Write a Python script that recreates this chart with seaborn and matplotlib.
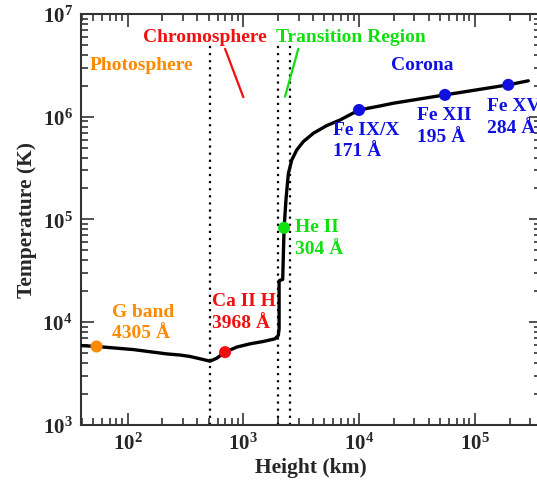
import numpy as np
import pandas as pd
import matplotlib
matplotlib.use("Agg")
import matplotlib.pyplot as plt
import seaborn as sns
from matplotlib.ticker import LogLocator, NullFormatter, FuncFormatter

# ---- data ----
height_km = [39.4, 53.8, 111.7, 217, 284, 346, 423, 515, 589, 695, 877, 1143, 1489, 1879,
             2004, 2037, 2037, 2060, 2188, 2250, 2340, 2450, 2618, 2894, 3300, 4027,
             5260, 6860, 10000, 15190, 19800, 55300, 195000, 290400]
temperature_K = [5900, 5780, 5395, 4898, 4770, 4620, 4385, 4159, 4446, 5093, 5702, 6138, 6471, 6871,
                 7396, 8610, 24500, 25500, 26000, 82800, 160000, 280000, 378400, 474600, 573100, 690700,
                 820700, 930400, 1164000, 1274000, 1355000, 1633000, 2046000, 2239000]

line_names = ["G band", "Ca II H", "He II", "Fe IX/X", "Fe XII", "Fe XV"]
line_wavelengths = ["4305 Å", "3968 Å", "304 Å", "171 Å", "195 Å", "284 Å"]
line_heights = [53.8, 695, 2250, 10000, 55300, 195000]
line_temps = [5780, 5093, 82800, 1164000, 1633000, 2046000]
line_colors = ["#FF8A00", "#F01010", "#10E010", "#1010E0", "#1010E0", "#1010E0"]

boundary_heights = [510, 2000, 2540]

region_names = ["Photosphere", "Chromosphere", "Transition Region", "Corona"]
region_colors = ["#FF8A00", "#F01010", "#10E010", "#1010E0"]

xlim = (39.5, 3.74e5)
ylim = (1e3, 1e7)

# ---- figure ----
sns.set_style("ticks")
plt.rcParams['font.family'] = ['Liberation Serif', 'DejaVu Serif']
plt.rcParams['font.weight'] = 'bold'
plt.rcParams['mathtext.fontset'] = 'custom'
plt.rcParams['mathtext.rm'] = 'Liberation Serif:bold'
plt.rcParams['mathtext.bf'] = 'Liberation Serif:bold'

fig = plt.figure(figsize=(5.37, 4.81), dpi=100)
ax = fig.add_axes([81/537, 1-425.7/481, 460/537, 410.6/481])

ax.set_xscale("log")
ax.set_yscale("log")
ax.set_xlim(*xlim)
ax.set_ylim(*ylim)

# boundaries
for h in boundary_heights:
    ax.plot([h, h], [1e3, 5e6], color="black", linestyle=(0, (1, 2.2)), linewidth=1.6, zorder=1)

df = pd.DataFrame({"height": height_km, "temp": temperature_K})
sns.lineplot(data=df, x="height", y="temp", estimator=None, sort=False,
             color="black", linewidth=2.4, ax=ax, zorder=3)

pts = pd.DataFrame({"height": line_heights, "temp": line_temps, "name": line_names})
sns.scatterplot(data=pts, x="height", y="temp", hue="name", palette=dict(zip(line_names, line_colors)),
                s=75, edgecolor="none", legend=False, ax=ax, zorder=4)

# region labels
fs = 14
ax.text(47.3, 3.25e6, region_names[0], color=region_colors[0], fontsize=fs, fontweight="bold", ha="left", va="center")
ax.text(136, 6.0e6, region_names[1], color=region_colors[1], fontsize=fs, fontweight="bold", ha="left", va="center")
ax.text(1920, 6.1e6, region_names[2], color=region_colors[2], fontsize=fs, fontweight="bold", ha="left", va="center")
ax.text(18900, 3.25e6, region_names[3], color=region_colors[3], fontsize=fs, fontweight="bold", ha="left", va="center")
ax.plot([695, 1000], [4.59e6, 1.55e6], color=region_colors[1], linewidth=1.6)
ax.plot([2985, 2291], [4.59e6, 1.57e6], color=region_colors[2], linewidth=1.6)

# spectral line labels
label_pos = [(73.8, 1.0e4), (533, 1.27e4), (2800, 6.69e4), (5930, 5.93e5), (31900, 8.26e5), (127000, 1.01e6)]
for (lx, ly), n, w, c in zip(label_pos, line_names, line_wavelengths, line_colors):
    ax.text(lx, ly, n + "\n" + w, color=c, fontsize=fs, fontweight="bold", ha="left", va="center",
            linespacing=1.35, zorder=5)

# axes styling
ax.set_xlabel("Height (km)", fontsize=15.5, fontweight="bold", labelpad=2)
ax.set_ylabel("Temperature (K)", fontsize=15.5, fontweight="bold", labelpad=4)

fmt = FuncFormatter(lambda v, p: r"$\mathbf{10^{%d}}$" % int(round(np.log10(v))))
ax.xaxis.set_major_locator(LogLocator(base=10, numticks=20))
ax.yaxis.set_major_locator(LogLocator(base=10, numticks=20))
ax.xaxis.set_minor_locator(LogLocator(base=10, subs=np.arange(2, 10), numticks=50))
ax.yaxis.set_minor_locator(LogLocator(base=10, subs=np.arange(2, 10), numticks=50))
ax.xaxis.set_major_formatter(fmt)
ax.yaxis.set_major_formatter(fmt)
ax.xaxis.set_minor_formatter(NullFormatter())
ax.yaxis.set_minor_formatter(NullFormatter())
ax.tick_params(which="both", direction="in", top=True, right=True, color="#333333", width=1.2)
ax.tick_params(which="major", length=9, labelsize=15, pad=6)
ax.tick_params(which="minor", length=5)
for sp in ax.spines.values():
    sp.set_linewidth(1.5)
    sp.set_color("#333333")

fig.savefig("out.png", dpi=100)
